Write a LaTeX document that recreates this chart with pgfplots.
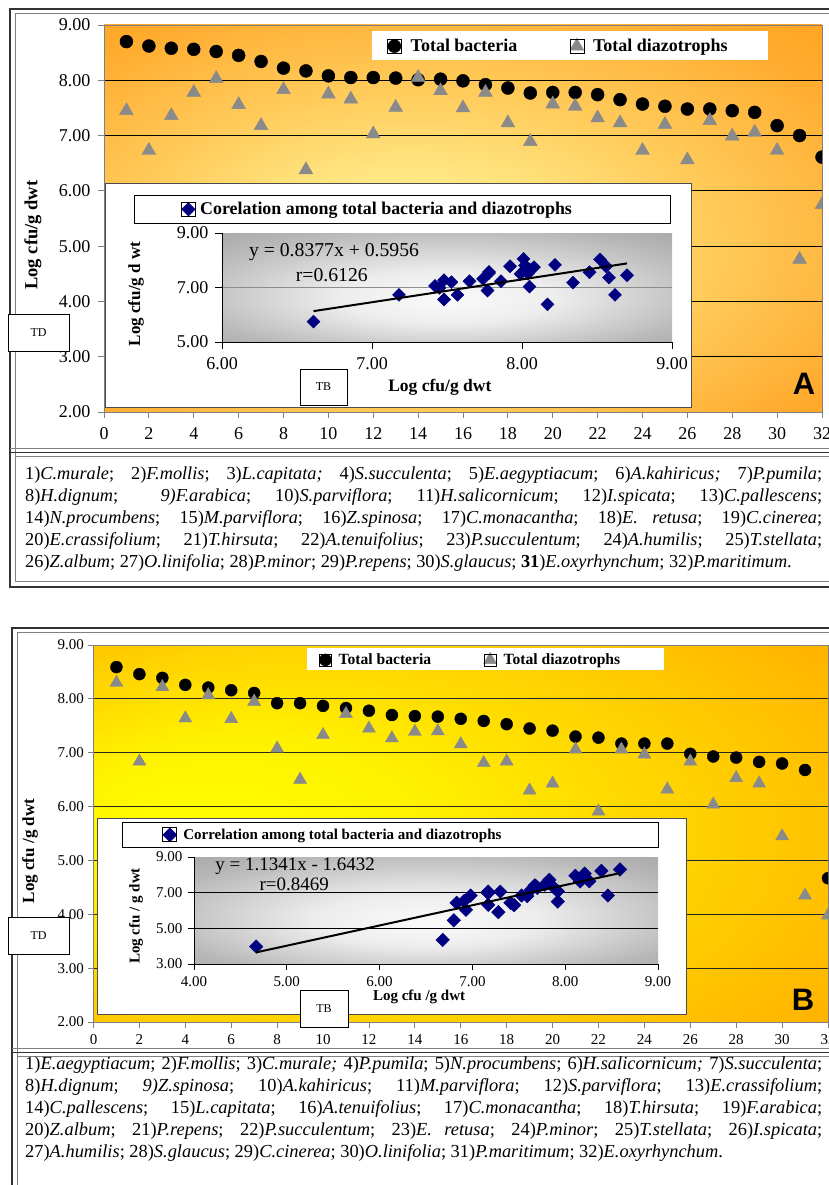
\documentclass[border=0pt]{standalone}
\usepackage{pgfplots}
\pgfplotsset{compat=1.18}
\usepackage{fontspec}
\setmainfont{Liberation Serif}
\newfontfamily\arialfont{Liberation Sans}
\definecolor{navy}{RGB}{0,0,128}
\definecolor{trigray}{RGB}{138,138,138}
\pgfplotsset{/pgf/number format/assume math mode=true}
\pgfdeclareradialshading{bgA}{\pgfpoint{-5bp}{-6bp}}{rgb(0bp)=(1,0.97,0.62); rgb(8bp)=(1,0.93,0.55); rgb(20bp)=(1,0.80,0.36); rgb(33bp)=(1,0.67,0.18); rgb(45bp)=(1,0.6,0.06); rgb(50bp)=(1,0.58,0.04)}
\pgfdeclareradialshading{bgB}{\pgfpoint{-20bp}{0bp}}{rgb(0bp)=(1,1,0); rgb(12bp)=(1,0.95,0); rgb(30bp)=(1,0.78,0); rgb(45bp)=(1,0.64,0); rgb(50bp)=(1,0.6,0)}
\pgfdeclareradialshading{bgG}{\pgfpoint{0bp}{-6bp}}{rgb(0bp)=(0.98,0.98,0.98); rgb(12bp)=(0.93,0.93,0.93); rgb(30bp)=(0.72,0.72,0.72); rgb(50bp)=(0.56,0.56,0.56)}

\pgfplotstableread{
x tb td
1 8.70 7.45
2 8.62 6.73
3 8.58 7.36
4 8.56 7.78
5 8.52 8.03
6 8.45 7.56
7 8.34 7.18
8 8.22 7.83
9 8.17 6.38
10 8.08 7.75
11 8.05 7.66
12 8.05 7.03
13 8.04 7.51
14 8.01 8.05
15 8.02 7.81
16 7.99 7.50
17 7.92 7.78
18 7.86 7.23
19 7.77 6.89
20 7.78 7.57
21 7.78 7.53
22 7.74 7.32
23 7.65 7.23
24 7.57 6.73
25 7.53 7.20
26 7.48 6.56
27 7.48 7.27
28 7.45 6.99
29 7.42 7.06
30 7.18 6.73
31 7.00 4.76
32 6.61 5.75
}\dataA

\pgfplotstableread{
x tb td
1 8.59 8.30
2 8.46 6.84
3 8.39 8.22
4 8.26 7.64
5 8.21 8.07
6 8.16 7.63
7 8.11 7.95
8 7.92 7.08
9 7.92 6.50
10 7.87 7.33
11 7.83 7.72
12 7.78 7.45
13 7.70 7.27
14 7.68 7.39
15 7.67 7.40
16 7.63 7.16
17 7.59 6.81
18 7.53 6.84
19 7.45 6.30
20 7.41 6.43
21 7.30 7.06
22 7.28 5.91
23 7.17 7.06
24 7.17 6.97
25 7.17 6.32
26 6.98 6.84
27 6.93 6.04
28 6.91 6.53
29 6.83 6.43
30 6.80 5.45
31 6.68 4.35
32 4.67 3.98
}\dataB

\pgfplotsset{
  twodec/.style={/pgf/number format/fixed, /pgf/number format/fixed zerofill, /pgf/number format/precision=2},
}

\newcommand{\capline}[3]{\node[anchor=base west, inner sep=0pt, font=\fontsize{#1}{22}\selectfont] at (25pt,-#2pt) {#3};}

\begin{document}
\begin{tikzpicture}
\clip (0,0) rectangle (829pt,-1185pt);
\fill[white] (0,0) rectangle (829pt,-1185pt);

% ---------- frames A ----------
\draw[line width=2pt, black!80] (9.5pt,-9pt) rectangle (860pt,-586.5pt);
\draw[line width=0.8pt, black!50] (15pt,-13.5pt) rectangle (855pt,-581.5pt);
\draw[line width=0.8pt, black!50] (9.5pt,-448.5pt) -- (860pt,-448.5pt);
\draw[line width=1.5pt, black!80] (9.5pt,-452.5pt) -- (860pt,-452.5pt);
\draw[line width=0.8pt, black!50] (15pt,-456.5pt) -- (860pt,-456.5pt);

% ---------- frames B ----------
\draw[line width=2pt, black!80] (12pt,-1200pt) -- (12pt,-628pt) -- (860pt,-628pt);
\draw[line width=0.8pt, black!50] (17pt,-1200pt) -- (17pt,-632.5pt) -- (860pt,-632.5pt);
\draw[line width=0.8pt, black!50] (12pt,-1048.5pt) -- (860pt,-1048.5pt);
\draw[line width=1.5pt, black!80] (12pt,-1052.5pt) -- (860pt,-1052.5pt);
\draw[line width=0.8pt, black!50] (17pt,-1056.5pt) -- (860pt,-1056.5pt);

% ================= MAIN A =================
\begin{axis}[
  at={(104pt,-412pt)}, anchor=south west, scale only axis,
  width=718pt, height=387pt,
  xmin=0, xmax=32, ymin=2, ymax=9,
  axis background/.style={shading=bgA},
  xtick={0,2,...,32}, ytick={3,4,5,6,7,8}, extra y ticks={2,9}, extra y tick style={grid=none},
  ymajorgrids, major grid style={black, line width=1pt},
  tick align=outside, xtick pos=bottom, ytick pos=left,
  major tick length=6pt, tick style={black!50, line width=0.8pt},
  axis line style={black!50, line width=0.8pt},
  tick label style={font=\fontsize{18}{18}\selectfont},
  yticklabel style={xshift=-4pt, twodec},
  xticklabel style={yshift=-6pt},
  ylabel={Log cfu/g dwt},
  ylabel style={font=\bfseries\fontsize{18.5}{18.5}\selectfont, at={(axis description cs:-0.0989,0.457)}, anchor=center},
  clip marker paths=true,
  legend columns=2, legend cell align=left,
  legend image code/.code={\draw[#1] plot coordinates {(0pt,0pt)}; \path (-7pt,-7pt) rectangle (7pt,7pt);},
  legend style={at={(axis description cs:0.3733,0.9845)}, anchor=north west, draw=none, fill=white,
    inner xsep=15pt, inner ysep=7pt, font=\bfseries\fontsize{18}{18}\selectfont,
    nodes={inner sep=0pt}, /tikz/every odd column/.style={column sep=9pt}},
]
\addplot[only marks, mark=*, mark size=6.5pt, mark options={fill=black, draw=black}] table[x=x, y=tb] {\dataA};
\addlegendentry{\makebox[159pt][l]{Total bacteria}}
\addplot[only marks, mark=triangle*, mark size=8pt, mark options={fill=trigray, draw=trigray}] table[x=x, y=td] {\dataA};
\addlegendentry{\makebox[160pt][l]{Total diazotrophs}}
\end{axis}

\draw[fill=white, draw=black!70, line width=0.8pt] (105pt,-183pt) rectangle (691pt,-407pt);

% ================= INSET A =================
\begin{axis}[
  at={(222pt,-342pt)}, anchor=south west, scale only axis,
  width=450pt, height=109pt,
  xmin=6, xmax=9, ymin=5, ymax=9,
  axis background/.style={shading=bgG},
  xtick={6,7,8,9}, ytick={7}, extra y ticks={5,9}, extra y tick style={grid=none},
  ymajorgrids, major grid style={black!45, line width=1pt},
  axis line style={draw=none},
  tick align=outside, xtick pos=bottom, ytick pos=left,
  major tick length=7pt, tick style={black, line width=1pt},
  tick label style={font=\fontsize{18}{18}\selectfont, twodec},
  yticklabel style={xshift=-3pt},
  xticklabel style={yshift=-5pt},
  xlabel={Log cfu/g dwt},
  xlabel style={font=\bfseries\fontsize{17.5}{17.5}\selectfont, at={(axis description cs:0.484,-0.413)}, anchor=center},
  ylabel={Log cfu/g d wt},
  ylabel style={font=\bfseries\fontsize{17}{17}\selectfont, at={(axis description cs:-0.191,0.44)}, anchor=center},
  clip marker paths=true,
  legend cell align=left,
  legend image code/.code={\draw[#1] plot coordinates {(0pt,0pt)}; \path (-7pt,-7pt) rectangle (7pt,7pt);},
  legend style={at={(axis description cs:-0.1956,1.3486)}, anchor=north west, draw=black, line width=0.8pt, fill=white,
    inner xsep=46.6pt, inner ysep=6.5pt, font=\bfseries\fontsize{17.9}{17.9}\selectfont,
    nodes={inner sep=0pt}, /tikz/every odd column/.style={column sep=4.4pt}},
  after end axis/.code={\draw[black, line width=1pt] (rel axis cs:0,1) -- (rel axis cs:0,0) -- (rel axis cs:1,0);},
]
\addplot[only marks, mark=square*, mark size=4.6pt, mark options={rotate=45, fill=navy, draw=navy}] table[x=tb, y=td] {\dataA};
\addlegendentry{\makebox[424pt][l]{Corelation among total bacteria and diazotrophs}}
\addplot[forget plot, black, line width=2pt] coordinates {(6.61,6.133) (8.70,7.884)};
\node[font=\fontsize{19.7}{19.7}\selectfont] at (axis description cs:0.249,0.826) {y = 0.8377x + 0.5956};
\node[font=\fontsize{19.7}{19.7}\selectfont] at (axis description cs:0.244,0.615) {r=0.6126};
\end{axis}

\node[draw=black, fill=white, line width=0.8pt, minimum width=61pt, minimum height=37pt, font=\fontsize{12}{12}\selectfont] at (38.5pt,-332.5pt) {TD};
\node[draw=black, fill=white, line width=0.8pt, minimum width=47pt, minimum height=36pt, font=\fontsize{12}{12}\selectfont] at (323.5pt,-387pt) {TB};
\node[font=\arialfont\bfseries\fontsize{31}{31}\selectfont] at (804pt,-384pt) {A};

% captions A
\capline{18.3}{479}{\makebox[797pt][s]{1)\textit{C.murale}; 2)\textit{F.mollis}; 3)\textit{L.capitata;} 4)\textit{S.succulenta}; 5)\textit{E.aegyptiacum}; 6)\textit{A.kahiricus;} 7)\textit{P.pumila};}}
\capline{18.3}{501}{\makebox[797pt][s]{8)\textit{H.dignum}; \quad\textit{9)F.arabica}; 10)\textit{S.parviflora}; 11)\textit{H.salicornicum}; 12)\textit{I.spicata}; 13)\textit{C.pallescens};}}
\capline{18.3}{523}{\makebox[797pt][s]{14)\textit{N.procumbens}; 15)\textit{M.parviflora}; 16)\textit{Z.spinosa}; 17)\textit{C.monacantha}; 18)\textit{E. retusa}; 19)\textit{C.cinerea};}}
\capline{18.3}{545}{\makebox[797pt][s]{20)\textit{E.crassifolium}; 21)\textit{T.hirsuta}; 22)\textit{A.tenuifolius}; 23)\textit{P.succulentum}; 24)\textit{A.humilis}; 25)\textit{T.stellata};}}
\capline{18.3}{567}{26)\textit{Z.album}; 27)\textit{O.linifolia}; 28)\textit{P.minor}; 29)\textit{P.repens}; 30)\textit{S.glaucus}; \textbf{31})\textit{E.oxyrhynchum}; 32)\textit{P.maritimum}.}

% ================= MAIN B =================
\begin{axis}[
  at={(93.5pt,-1022pt)}, anchor=south west, scale only axis,
  width=734.5pt, height=377pt,
  xmin=0, xmax=32, ymin=2, ymax=9,
  axis background/.style={shading=bgB},
  xtick={0,2,...,32}, ytick={3,4,5,6,7,8}, extra y ticks={2,9}, extra y tick style={grid=none},
  ymajorgrids, major grid style={black!85, line width=1pt},
  tick align=outside, xtick pos=bottom, ytick pos=left,
  major tick length=6pt, tick style={black!50, line width=0.8pt},
  axis line style={black!50, line width=0.8pt},
  tick label style={font=\fontsize{15}{15}\selectfont},
  yticklabel style={twodec},
  xticklabel style={yshift=-3pt},
  ylabel={Log cfu /g dwt},
  ylabel style={font=\bfseries\fontsize{17}{17}\selectfont, at={(axis description cs:-0.0865,0.4536)}, anchor=center},
  clip marker paths=true,
  legend columns=2, legend cell align=left,
  legend image code/.code={\draw[#1] plot coordinates {(0pt,0pt)}; \path (-6pt,-6pt) rectangle (6pt,6pt);},
  legend style={at={(axis description cs:0.2907,0.992)}, anchor=north west, draw=none, fill=white,
    inner xsep=12pt, inner ysep=4.2pt, font=\bfseries\fontsize{15.6}{15.6}\selectfont,
    nodes={inner sep=0pt}, /tikz/every odd column/.style={column sep=7pt}},
]
\addplot[only marks, mark=*, mark size=6pt, mark options={fill=black, draw=black}] table[x=x, y=tb] {\dataB};
\addlegendentry{\makebox[145pt][l]{Total bacteria}}
\addplot[only marks, mark=triangle*, mark size=7.5pt, mark options={fill=trigray, draw=trigray}] table[x=x, y=td] {\dataB};
\addlegendentry{\makebox[148pt][l]{Total diazotrophs}}
\end{axis}

\draw[fill=white, draw=black!70, line width=0.8pt] (97pt,-818pt) rectangle (686pt,-1014pt);

% ================= INSET B =================
\begin{axis}[
  at={(194pt,-964pt)}, anchor=south west, scale only axis,
  width=464pt, height=107pt,
  xmin=4, xmax=9, ymin=3, ymax=9,
  axis background/.style={shading=bgG},
  xtick={4,5,...,9}, ytick={5,7}, extra y ticks={3,9}, extra y tick style={grid=none},
  ymajorgrids, major grid style={black, line width=1pt},
  axis line style={draw=none},
  tick align=outside, xtick pos=bottom, ytick pos=left,
  major tick length=6pt, tick style={black, line width=1pt},
  tick label style={font=\fontsize{15}{15}\selectfont, twodec},
  yticklabel style={xshift=-2pt},
  xticklabel style={yshift=-3pt},
  xlabel={Log cfu /g dwt},
  xlabel style={font=\bfseries\fontsize{15}{15}\selectfont, at={(axis description cs:0.485,-0.308)}, anchor=center},
  ylabel={Log cfu / g dwt},
  ylabel style={font=\bfseries\fontsize{15}{15}\selectfont, at={(axis description cs:-0.125,0.449)}, anchor=center},
  clip marker paths=true,
  legend cell align=left,
  legend image code/.code={\draw[#1] plot coordinates {(0pt,0pt)}; \path (-7pt,-7pt) rectangle (7pt,7pt);},
  legend style={at={(axis description cs:-0.155,1.327)}, anchor=north west, draw=black, line width=0.8pt, fill=white,
    inner xsep=40pt, inner ysep=5pt, font=\bfseries\fontsize{15}{15}\selectfont,
    nodes={inner sep=0pt}, /tikz/every odd column/.style={column sep=6pt}},
  after end axis/.code={\draw[black, line width=1pt] (rel axis cs:0,1) -- (rel axis cs:0,0) -- (rel axis cs:1,0);},
]
\addplot[only marks, mark=square*, mark size=4.8pt, mark options={rotate=45, fill=navy, draw=navy}] table[x=tb, y=td] {\dataB};
\addlegendentry{\makebox[435pt][l]{Correlation among total bacteria and diazotrophs}}
\addplot[forget plot, black, line width=2pt] coordinates {(4.67,3.653) (8.59,8.099)};
\node[font=\fontsize{19}{19}\selectfont] at (axis description cs:0.218,0.916) {y = 1.1341x - 1.6432};
\node[font=\fontsize{19}{19}\selectfont] at (axis description cs:0.216,0.748) {r=0.8469};
\end{axis}

\node[draw=black, fill=white, line width=0.8pt, minimum width=61pt, minimum height=37pt, font=\fontsize{12}{12}\selectfont] at (38.5pt,-935.5pt) {TD};
\node[draw=black, fill=white, line width=0.8pt, minimum width=48pt, minimum height=37pt, font=\fontsize{12}{12}\selectfont] at (324pt,-1008.5pt) {TB};
\node[font=\arialfont\bfseries\fontsize{31}{31}\selectfont] at (803pt,-1000pt) {B};

% captions B
\capline{18.4}{1069}{\makebox[797pt][s]{1)\textit{E.aegyptiacum}; 2)\textit{F.mollis}; 3)\textit{C.murale;} 4)\textit{P.pumila}; 5)\textit{N.procumbens}; 6)\textit{H.salicornicum;} 7)\textit{S.succulenta};}}
\capline{18.4}{1091}{\makebox[797pt][s]{8)\textit{H.dignum}; \textit{9)Z.spinosa}; 10)\textit{A.kahiricus}; 11)\textit{M.parviflora}; 12)\textit{S.parviflora}; 13)\textit{E.crassifolium};}}
\capline{18.4}{1113}{\makebox[797pt][s]{14)\textit{C.pallescens}; 15)\textit{L.capitata}; 16)\textit{A.tenuifolius}; 17)\textit{C.monacantha}; 18)\textit{T.hirsuta}; 19)\textit{F.arabica};}}
\capline{18.4}{1135}{\makebox[797pt][s]{20)\textit{Z.album}; 21)\textit{P.repens}; 22)\textit{P.succulentum}; 23)\textit{E. retusa}; 24)\textit{P.minor}; 25)\textit{T.stellata}; 26)\textit{I.spicata};}}
\capline{18.4}{1157}{27)\textit{A.humilis}; 28)\textit{S.glaucus}; 29)\textit{C.cinerea}; 30)\textit{O.linifolia}; 31)\textit{P.maritimum}; 32)\textit{E.oxyrhynchum}.}
\end{tikzpicture}
\end{document}
